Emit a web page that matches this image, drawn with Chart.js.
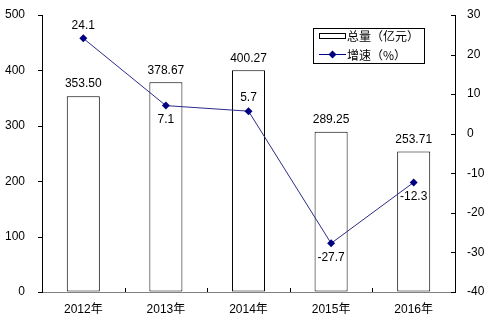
<!DOCTYPE html>
<html>
<head>
<meta charset="utf-8">
<script src="https://cdn.jsdelivr.net/npm/chart.js@4"></script>
<style>
  body { margin: 0; background: #fff; }
  canvas { display: block; }
</style>
</head>
<body>
<canvas id="grafico" width="492" height="327"></canvas>
<script>
// Datos del gráfico
const categorias = ['2012年', '2013年', '2014年', '2015年', '2016年'];
const totales = [353.50, 378.67, 400.27, 289.25, 253.71];
const crecimiento = [24.1, 7.1, 5.7, -27.7, -12.3];
const ticksIzq = [0, 100, 200, 300, 400, 500];
const ticksDer = [-40, -30, -20, -10, 0, 10, 20, 30];

const fuente = '"Liberation Sans", Arial, "Noto Sans CJK SC", sans-serif';
const azul = '#000080';

// etiquetas encima o debajo del punto
const debajo = [false, true, false, true, true];

const plugin = {
    id: 'extras',
    afterDatasetsDraw(chart) {
        const ctx = chart.ctx;
        const area = chart.chartArea;
        ctx.save();
        ctx.font = '12px ' + fuente;
        ctx.fillStyle = '#000';
        ctx.textAlign = 'center';
        ctx.textBaseline = 'middle';

        // valores de las barras
        chart.getDatasetMeta(0).data.forEach((bar, i) => {
            ctx.fillText(totales[i].toFixed(2), bar.x, bar.y - 12);
        });
        // valores de la línea
        chart.getDatasetMeta(1).data.forEach((pt, i) => {
            const dy = debajo[i] ? 14 : -13;
            ctx.fillText(crecimiento[i].toFixed(1), pt.x, pt.y + dy);
        });

        // marcas de los ejes
        ctx.strokeStyle = '#000';
        ctx.lineWidth = 1;
        const yL = chart.scales.y;
        ticksIzq.forEach(v => {
            const y = Math.round(yL.getPixelForValue(v)) + 0.5;
            ctx.beginPath();
            ctx.moveTo(area.left - 4, y);
            ctx.lineTo(area.left, y);
            ctx.stroke();
        });
        const yR = chart.scales.y1;
        ticksDer.forEach(v => {
            const y = Math.round(yR.getPixelForValue(v)) + 0.5;
            ctx.beginPath();
            ctx.moveTo(area.right - 4, y);
            ctx.lineTo(area.right, y);
            ctx.stroke();
        });
        const paso = (area.right - area.left) / categorias.length;
        for (let i = 1; i < categorias.length; i++) {
            const x = Math.round(area.left + paso * i) + 0.5;
            ctx.beginPath();
            ctx.moveTo(x, area.bottom - 4);
            ctx.lineTo(x, area.bottom);
            ctx.stroke();
        }

        // leyenda
        ctx.strokeStyle = '#000';
        ctx.strokeRect(313.5, 28.5, 111, 35);
        ctx.strokeRect(319.5, 33.5, 26, 5);
        ctx.strokeStyle = azul;
        ctx.beginPath();
        ctx.moveTo(319, 54.5);
        ctx.lineTo(346, 54.5);
        ctx.stroke();
        ctx.fillStyle = azul;
        ctx.beginPath();
        ctx.moveTo(332.5, 50.5);
        ctx.lineTo(336.5, 54.5);
        ctx.lineTo(332.5, 58.5);
        ctx.lineTo(328.5, 54.5);
        ctx.closePath();
        ctx.fill();
        ctx.fillStyle = '#000';
        ctx.textAlign = 'left';
        ctx.font = '12px "Noto Sans CJK SC", sans-serif';
        ctx.fillText('总量（亿元）', 347, 36);
        ctx.fillText('增速（%）', 347, 55);
        ctx.restore();
    }
};

// rejilla invisible: solo sirve para separar las etiquetas del eje
const rejilla = (largo) => ({
    display: true,
    drawOnChartArea: false,
    drawTicks: true,
    tickLength: largo,
    color: 'rgba(0,0,0,0)'
});

const ctx = document.getElementById('grafico').getContext('2d');
new Chart(ctx, {
    type: 'bar',
    data: {
        labels: categorias,
        datasets: [{
            label: '总量（亿元）',
            data: totales,
            backgroundColor: '#fff',
            borderColor: '#000',
            borderWidth: 1,
            borderSkipped: false,
            inflateAmount: 0,
            categoryPercentage: 1,
            barPercentage: 0.4,
            yAxisID: 'y',
            order: 2
        }, {
            type: 'line',
            label: '增速（%）',
            data: crecimiento,
            borderColor: '#2b2b88',
            borderWidth: 1,
            backgroundColor: azul,
            pointStyle: 'rectRot',
            pointRadius: 4,
            pointBorderWidth: 0,
            pointBackgroundColor: azul,
            yAxisID: 'y1',
            order: 1
        }]
    },
    options: {
        responsive: false,
        animation: false,
        layout: { padding: { top: 15 } },
        plugins: {
            legend: { display: false },
            tooltip: { enabled: false }
        },
        scales: {
            x: {
                grid: rejilla(10),
                border: { color: '#808080', width: 1 },
                ticks: { color: '#000', font: { size: 12, family: fuente }, padding: 0 },
                afterFit(s) { s.height = 35; }
            },
            y: {
                position: 'left',
                min: 0, max: 500,
                grid: rejilla(17),
                border: { color: '#000', width: 1 },
                ticks: { stepSize: 100, color: '#000', font: { size: 12, family: fuente }, padding: 0 },
                afterFit(s) { s.width = 42; }
            },
            y1: {
                position: 'right',
                min: -40, max: 30,
                grid: rejilla(12),
                border: { color: '#000', width: 1 },
                ticks: { stepSize: 10, color: '#000', font: { size: 12, family: fuente }, padding: 0 },
                afterFit(s) { s.width = 37; }
            }
        }
    },
    plugins: [plugin]
});
</script>
</body>
</html>
